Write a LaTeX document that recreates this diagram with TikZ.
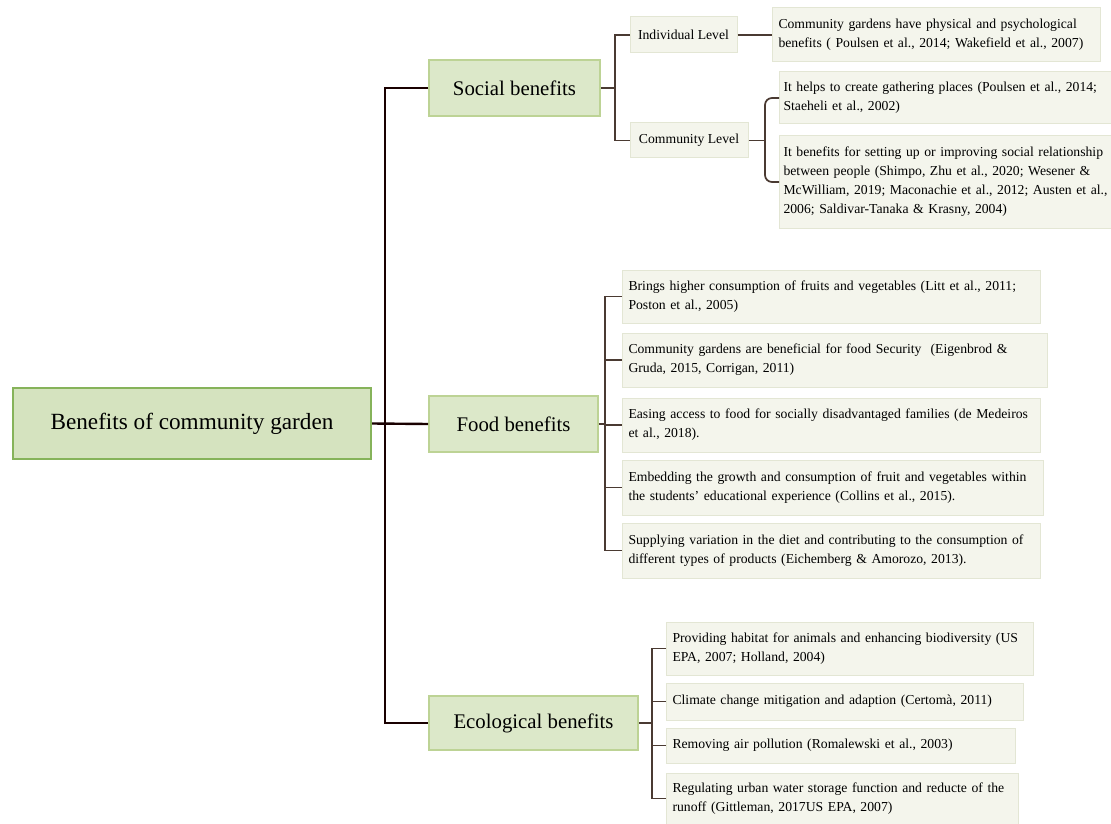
\documentclass[tikz,border=0pt]{standalone}
\usepackage{fontspec}
\setmainfont{Liberation Serif}
\definecolor{rootfill}{HTML}{D5E3BF}
\definecolor{rootline}{HTML}{86B35A}
\definecolor{catfill}{HTML}{DCE8C9}
\definecolor{catline}{HTML}{BDD395}
\definecolor{leaffill}{HTML}{F4F5EC}
\definecolor{leafline}{HTML}{E3E6D4}
\definecolor{twigcol}{HTML}{4A3A32}
\tikzset{
  rootbox/.style={draw=rootline, line width=2.4pt, fill=rootfill, rectangle, align=center, font=\fontsize{23.2}{28}\selectfont},
  catbox/.style={draw=catline, line width=1.6pt, fill=catfill, rectangle, align=center, font=\fontsize{20.8}{25}\selectfont},
  levelbox/.style={draw=leafline, line width=1pt, fill=leaffill, rectangle, align=center, font=\fontsize{13.7}{19}\selectfont},
  leafbox/.style={draw=leafline, line width=1pt, fill=leaffill, rectangle, anchor=west, align=left, inner xsep=6pt, font=\fontsize{13.7}{19}\selectfont},
  trunk/.style={draw=black!90!red, line width=2.4pt},
  twig/.style={draw=twigcol, line width=1.7pt}
}
\begin{document}
\begin{tikzpicture}[x=1pt,y=-1pt]
\useasboundingbox[fill=white] (0,0) rectangle (1111,824);

\node[rootbox, minimum width=358pt, minimum height=71pt] (root) at (192,423.5) {Benefits of community garden};

\node[catbox, minimum width=171pt, minimum height=56pt] (social) at (514.5,88) {Social benefits};
\node[catbox, minimum width=169pt, minimum height=56pt] (food) at (513.5,424) {Food benefits};
\node[catbox, minimum width=209pt, minimum height=54pt] (eco) at (533.5,723) {Ecological benefits};

\node[levelbox, minimum width=107pt, minimum height=36pt] (indiv) at (683.5,35) {Individual Level};
\node[levelbox, minimum width=118pt, minimum height=35pt] (commun) at (689,140.5) {Community Level};

\node[leafbox, text width=316pt, minimum height=54pt] (indleaf) at (772,35) {Community gardens have physical and psychological\\benefits ( Poulsen et al., 2014; Wakefield et al., 2007)};
\node[leafbox, inner xsep=4pt, text width=332pt, minimum height=52pt] (comleafa) at (779,98) {It helps to create gathering places (Poulsen et al., 2014;\\Staeheli et al., 2002)};
\node[leafbox, inner xsep=4pt, text width=332pt, minimum height=92pt] (comleafb) at (779,182) {It benefits for setting up or improving social relationship\\between people (Shimpo, Zhu et al., 2020; Wesener \&\\McWilliam, 2019; Maconachie et al., 2012; Austen et al.,\\2006; Saldivar-Tanaka \& Krasny, 2004)};

\node[leafbox, text width=406pt, minimum height=53pt] (fooda) at (622,296.5) {Brings higher consumption of fruits and vegetables (Litt et al., 2011;\\Poston et al., 2005)};
\node[leafbox, text width=413pt, minimum height=54pt] (foodb) at (622,360) {Community gardens are beneficial for food Security~ (Eigenbrod \&\\Gruda, 2015, Corrigan, 2011)};
\node[leafbox, text width=406pt, minimum height=54pt] (foodc) at (622,425) {Easing access to food for socially disadvantaged families (de Medeiros\\et al., 2018).};
\node[leafbox, text width=409pt, minimum height=55pt] (foodd) at (622,487.5) {Embedding the growth and consumption of fruit and vegetables within\\the students' educational experience (Collins et al., 2015).};
\node[leafbox, text width=406pt, minimum height=55pt] (foode) at (622,550.5) {Supplying variation in the diet and contributing to the consumption of\\different types of products (Eichemberg \& Amorozo, 2013).};

\node[leafbox, text width=355pt, minimum height=53pt] (ecoa) at (666,648.5) {Providing habitat for animals and enhancing biodiversity (US\\EPA, 2007; Holland, 2004)};
\node[leafbox, text width=345pt, minimum height=37pt] (ecob) at (666,701.5) {Climate change mitigation and adaption (Certomà, 2011)};
\node[leafbox, text width=337pt, minimum height=35pt] (ecoc) at (666,745.5) {Removing air pollution (Romalewski et al., 2003)};
\node[leafbox, text width=340pt, minimum height=51pt] (ecod) at (666,798.5) {Regulating urban water storage function and reducte of the\\runoff (Gittleman, 2017US EPA, 2007)};

\coordinate (rj) at (385,423.5);
\coordinate (sj) at (615,88);
\coordinate (cj) at (765,140.5);
\coordinate (fj) at (605,424);
\coordinate (ej) at (652,723);

\draw[trunk] (root.east) -- (food.west);
\draw[trunk] (social.west) -| (rj) |- (eco.west);

\draw[twig] (social.east) -- (sj);
\draw[twig] (indiv.west) -| (sj) |- (commun.west);
\draw[twig] (indiv.east) -- (indleaf.west);
\draw[twig] (commun.east) -- (cj);
\draw[twig, rounded corners=7pt] (comleafa.west) -| (cj) |- (comleafb.west);

\draw[twig] (food.east) -- (fj);
\draw[twig] (fooda.west) -| (fj) |- (foode.west);
\draw[twig] (fj |- foodb.west) -- (foodb.west);
\draw[twig] (fj |- foodc.west) -- (foodc.west);
\draw[twig] (fj |- foodd.west) -- (foodd.west);

\draw[twig] (eco.east) -- (ej);
\draw[twig] (ecoa.west) -| (ej) |- (ecod.west);
\draw[twig] (ej |- ecob.west) -- (ecob.west);
\draw[twig] (ej |- ecoc.west) -- (ecoc.west);
\end{tikzpicture}
\end{document}
